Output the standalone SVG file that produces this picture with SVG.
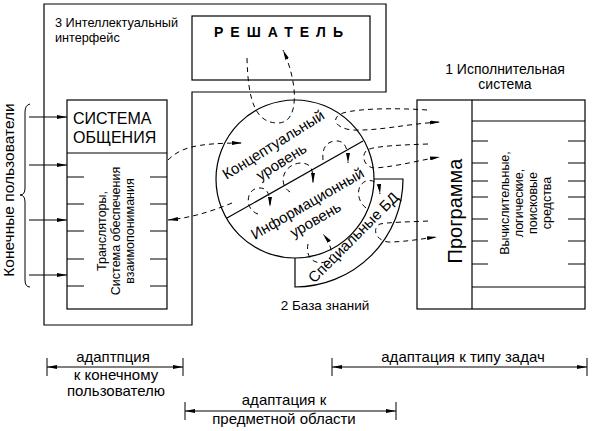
<svg xmlns="http://www.w3.org/2000/svg" width="595" height="431" viewBox="0 0 595 431">
<defs>
<marker id="ah" viewBox="0 0 10 4" refX="10" refY="2" markerWidth="10" markerHeight="4" markerUnits="userSpaceOnUse" orient="auto-start-reverse">
<path d="M0,0 L10,2 L0,4 z" fill="#000"/>
</marker>
<style>
.ln{fill:none;stroke:#000;stroke-width:1.2}
.thin{fill:none;stroke:#000;stroke-width:1}
.ds{fill:none;stroke:#000;stroke-width:1;stroke-dasharray:5,4}
.t{font-family:"Liberation Sans",Arial,sans-serif;fill:#000}
.arr{marker-end:url(#ah)}
.dim{fill:none;stroke:#000;stroke-width:1;marker-start:url(#ah);marker-end:url(#ah)}
</style>
</defs>
<rect width="595" height="431" fill="#fff"/>

<g id="interface">
<path class="ln" d="M44,4 H386 V92 H192 V325 H44 Z"/>
<text class="t" x="55" y="27" font-size="12.7">3 Интеллектуальный</text>
<text class="t" x="55" y="42" font-size="12.7">интерфейс</text>
</g>

<g id="reshatel">
<rect class="ln" x="192" y="16" width="178" height="64"/>
<text class="t" x="282" y="37" font-size="14" font-weight="bold" text-anchor="middle" letter-spacing="7">РЕШАТЕЛЬ</text>
</g>

<g id="sistema">
<rect class="ln" x="67" y="100" width="100" height="209"/>
<line class="ln" x1="67" y1="153" x2="167" y2="153"/>
<text class="t" x="73" y="124" font-size="16">СИСТЕМА</text>
<text class="t" x="73" y="143" font-size="16">ОБЩЕНИЯ</text>
<path class="thin" d="M67,177 H84 M150,177 H167 M67,204 H84 M150,204 H167 M67,231 H84 M150,231 H167 M67,259 H84 M150,259 H167 M67,286 H84 M150,286 H167"/>
<g transform="translate(117,231) rotate(-90)">
<text class="t" x="0" y="-11" font-size="12.5" text-anchor="middle">Трансляторы,</text>
<text class="t" x="0" y="3" font-size="12.5" text-anchor="middle">Система обеспечения</text>
<text class="t" x="0" y="17" font-size="12.5" text-anchor="middle">взаимопонимания</text>
</g>
</g>

<g id="users">
<path class="thin" d="M30,104 Q25,105 25,112 V188 Q25,195 20,195 Q25,195 25,202 V280 Q25,287 30,287"/>
<text class="t" transform="translate(14,190) rotate(-90)" x="0" y="0" font-size="15.5" text-anchor="middle">Конечные пользователи</text>
</g>

<g id="knowledge">
<circle class="ln" cx="295" cy="179" r="79"/>
<line class="ln" x1="227" y1="218" x2="363" y2="141"/>
<text class="t" transform="translate(276,149) rotate(-32)" font-size="15" text-anchor="middle">Концептуальный</text>
<text class="t" transform="translate(284,166) rotate(-32)" font-size="15" text-anchor="middle">уровень</text>
<text class="t" transform="translate(310,208) rotate(-30)" font-size="15" text-anchor="middle">Информационный</text>
<text class="t" transform="translate(318,224) rotate(-30)" font-size="15" text-anchor="middle">уровень</text>
<text class="t" x="325" y="310" font-size="13.5" text-anchor="middle">2 База знаний</text>
</g>

<g id="specbd">
<path class="ln" d="M374,179 H403 A108,108 0 0 1 295,287 V258"/>
<text class="t" transform="translate(357,241) rotate(-45)" font-size="15" text-anchor="middle">Специальные БД</text>
</g>

<g id="ispoln">
<rect class="ln" x="417" y="100" width="168" height="209"/>
<line class="ln" x1="472" y1="100" x2="472" y2="309"/>
<line class="ln" x1="472" y1="121" x2="585" y2="121"/>
<line class="ln" x1="472" y1="287" x2="585" y2="287"/>
<path class="thin" d="M472,141 H488 M568,141 H585 M472,163 H488 M568,163 H585 M472,181 H488 M568,181 H585 M472,197 H488 M568,197 H585 M472,219 H488 M568,219 H585 M472,241 H488 M568,241 H585 M472,264 H488 M568,264 H585"/>
<text class="t" transform="translate(462,211) rotate(-90)" font-size="20" text-anchor="middle">Программа</text>
<g transform="translate(528,203) rotate(-90)">
<text class="t" x="0" y="-19" font-size="12.5" text-anchor="middle">Вычислительные,</text>
<text class="t" x="0" y="-5" font-size="12.5" text-anchor="middle">логические,</text>
<text class="t" x="0" y="9" font-size="12.5" text-anchor="middle">поисковые</text>
<text class="t" x="0" y="23" font-size="12.5" text-anchor="middle">средства</text>
</g>
<text class="t" x="505" y="74" font-size="14" text-anchor="middle">1 Исполнительная</text>
<text class="t" x="505" y="89" font-size="14" text-anchor="middle">система</text>
</g>

<g id="connectors">
<path class="thin arr" d="M29,117 H67"/>
<path class="thin arr" d="M29,165 H67"/>
<path class="thin arr" d="M29,220 H67"/>
<path class="thin arr" d="M29,275 H67"/>
<path class="ds arr" d="M247,58 C248,100 255,123 278,123 C300,123 298,82 283,50"/>
<path class="ds arr" d="M168,160 C180,148 195,143 242,143"/>
<path class="ds arr" d="M232,203 C210,212 190,218 168,220"/>
<path class="ds arr" d="M427,110 C400,108 360,108 343,113 C330,118 335,128 352,130 C380,131 405,124 440,122"/>
<path class="ds arr" d="M428,144 C400,145 375,146 367,150 C360,156 365,168 375,168 C400,166 420,160 440,157"/>
<path class="ds arr" d="M428,221 C410,222 390,222 380,224 C372,228 375,240 388,242 C405,242 420,239 437,237"/>
<path class="ds arr" d="M323,160 C322,150 325,142 335,141 C346,140 348,150 348,163"/>
<path class="ds arr" d="M290,192 C278,185 282,165 300,163 C312,163 313,170 313,183"/>
<path class="ds arr" d="M258,214 C245,210 245,190 258,188 C268,187 270,195 270,207"/>
<path class="ds arr" d="M308,244 C305,258 315,265 325,262 C335,258 332,245 323,234"/>
<path class="ds arr" d="M366,208 C356,200 356,185 366,181 C374,179 379,183 380,194"/>
</g>

<g id="adapt-user">
<path class="thin" d="M47,358 V376 M183,358 V376"/>
<path class="dim" d="M47,367 H183"/>
<text class="t" x="113" y="362" font-size="15" text-anchor="middle">адаптпция</text>
<text class="t" x="116" y="380" font-size="15" text-anchor="middle">к конечному</text>
<text class="t" x="116" y="396" font-size="15" text-anchor="middle">пользователю</text>
</g>

<g id="adapt-domain">
<path class="thin" d="M185,402 V420 M396,402 V420"/>
<path class="dim" d="M185,411 H396"/>
<text class="t" x="284" y="405" font-size="15" text-anchor="middle">адаптация к</text>
<text class="t" x="284" y="424" font-size="15" text-anchor="middle">предметной области</text>
</g>

<g id="adapt-task">
<path class="thin" d="M332,358 V376 M587,358 V376"/>
<path class="dim" d="M332,367 H587"/>
<text class="t" x="463" y="362" font-size="15" text-anchor="middle">адаптация к типу задач</text>
</g>
</svg>
